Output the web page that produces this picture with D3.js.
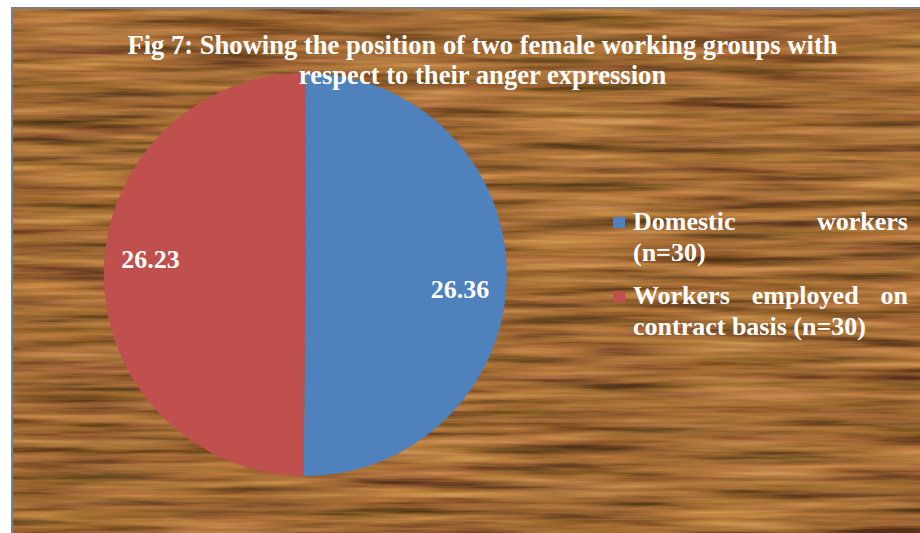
<!DOCTYPE html>
<html>
<head>
    <title>Fig 7 pie</title>
    <script src="https://d3js.org/d3.v7.min.js"></script>
    <style>
        body, html {
            margin: 0;
            padding: 0;
            background: #fff;
            overflow: hidden;
        }
        text {
            font-family: "Liberation Serif", "Times New Roman", serif;
            font-weight: bold;
            fill: #fff;
        }
    </style>
</head>
<body>
    <svg id="chart" width="920" height="533"></svg>

    <script>
        // chart data
        const categories = ["Domestic workers (n=30)", "Workers employed on contract basis (n=30)"];
        const values = [26.36, 26.23];
        const sliceColors = ["#4f81bd", "#c0504d"];
        const titleLines = [
            "Fig 7: Showing the position of two female working groups with",
            "respect to their anger expression"
        ];

        const width = 920, height = 533;
        const svg = d3.select("#chart");

        // wood grain background (procedural texture)
        const defs = svg.append("defs");
        const wood = defs.append("filter")
            .attr("id", "wood")
            .attr("x", 0).attr("y", 0).attr("width", 1).attr("height", 1)
            .attr("color-interpolation-filters", "sRGB");
        wood.append("feTurbulence")
            .attr("type", "fractalNoise")
            .attr("baseFrequency", "0.006 0.11")
            .attr("numOctaves", 4)
            .attr("seed", 7)
            .attr("result", "noise");
        // contrast boost, a small amount of the other channels for hue variation
        wood.append("feColorMatrix")
            .attr("in", "noise")
            .attr("type", "matrix")
            .attr("values", "1.6 0 0 0 -0.3  1.4 0.2 0 0 -0.3  1.3 0 0.3 0 -0.3  0 0 0 0 1")
            .attr("result", "grey");
        const ct = wood.append("feComponentTransfer").attr("in", "grey");
        ct.append("feFuncR").attr("type", "table").attr("tableValues", "0.34 0.46 0.59 0.67 0.74 0.80");
        ct.append("feFuncG").attr("type", "table").attr("tableValues", "0.19 0.28 0.38 0.45 0.52 0.60");
        ct.append("feFuncB").attr("type", "table").attr("tableValues", "0.09 0.13 0.18 0.23 0.28 0.35");
        ct.append("feFuncA").attr("type", "table").attr("tableValues", "1 1");

        // frame
        svg.append("rect")
            .attr("x", 11).attr("y", 7)
            .attr("width", width).attr("height", height)
            .attr("fill", "#7f7f7f");
        svg.append("rect")
            .attr("x", 13.5).attr("y", 9.5)
            .attr("width", width).attr("height", height)
            .attr("fill", "#a06a3a")
            .attr("filter", "url(#wood)");

        // pie
        const cx = 305.3, cy = 274.5, radius = 201.5;
        const pieData = values.map((v, i) => ({ name: categories[i], value: v, color: sliceColors[i] }));
        const pie = d3.pie().value(d => d.value).sort(null);
        const arc = d3.arc().innerRadius(0).outerRadius(radius);
        const arcs = pie(pieData);

        const g = svg.append("g").attr("transform", `translate(${cx},${cy})`);
        g.selectAll("path")
            .data(arcs)
            .enter().append("path")
            .attr("d", arc)
            .attr("fill", d => d.data.color);

        // data labels (Excel best fit, slightly rotated)
        g.selectAll(".val")
            .data(arcs)
            .enter().append("text")
            .attr("class", "val")
            .attr("transform", d => {
                const a = (d.startAngle + d.endAngle) / 2 + 0.093;
                const p = d3.pointRadial(a, 155.5);
                return `translate(${p[0]},${p[1]})`;
            })
            .attr("text-anchor", "middle")
            .attr("dy", "0.34em")
            .style("font-size", "26px")
            .text(d => d.data.value.toFixed(2));

        // title
        svg.selectAll(".title")
            .data(titleLines)
            .enter().append("text")
            .attr("class", "title")
            .attr("x", 482.5)
            .attr("y", (d, i) => 54 + i * 30)
            .attr("text-anchor", "middle")
            .style("font-size", "26.6px")
            .text(d => d);

        // legend with justified wrapped text
        const legX = 633, legRight = 908, legW = legRight - legX;
        const legTops = [230, 304];
        const lineH = 30.5;

        function measure(str) {
            const t = svg.append("text").style("font-size", "26px").text(str);
            const w = t.node().getComputedTextLength();
            t.remove();
            return w;
        }
        const spaceW = measure("a b") - measure("ab");

        pieData.forEach((d, i) => {
            const leg = svg.append("g").attr("class", "legend");
            leg.append("rect")
                .attr("x", 613).attr("y", legTops[i] - 13)
                .attr("width", 12).attr("height", 11)
                .attr("fill", d.color);

            // greedy wrap
            const words = d.name.split(" ");
            const lines = [];
            let cur = [];
            words.forEach(w => {
                const test = cur.concat([w]).join(" ");
                if (cur.length && measure(test) > legW) {
                    lines.push(cur);
                    cur = [w];
                } else {
                    cur.push(w);
                }
            });
            if (cur.length) lines.push(cur);

            lines.forEach((ln, li) => {
                const y = legTops[i] + li * lineH;
                const widths = ln.map(measure);
                const isLast = li === lines.length - 1;
                let gap = spaceW;
                if (!isLast && ln.length > 1) {
                    gap = (legW - d3.sum(widths)) / (ln.length - 1);
                }
                let x = legX;
                ln.forEach((w, wi) => {
                    leg.append("text")
                        .attr("x", x)
                        .attr("y", y)
                        .style("font-size", "26px")
                        .text(w);
                    x += widths[wi] + gap;
                });
            });
        });
    </script>
</body>
</html>
